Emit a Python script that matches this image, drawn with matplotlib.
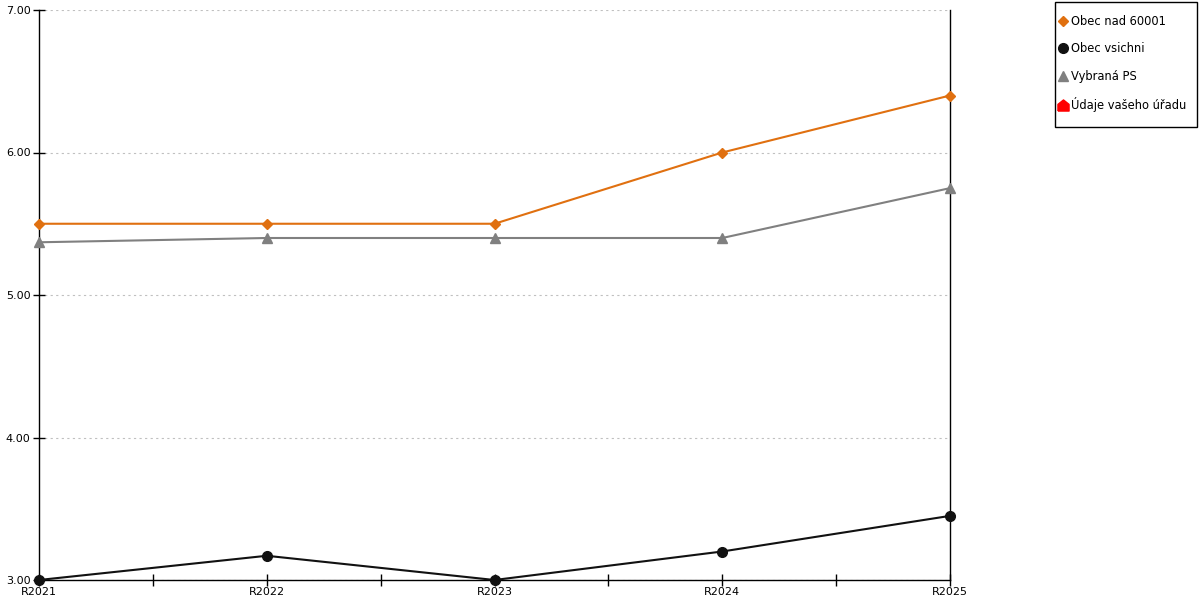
import matplotlib.pyplot as plt
from matplotlib.lines import Line2D
from matplotlib.patches import Rectangle
from matplotlib.ticker import MultipleLocator

# Datos del gráfico
roky = ["R2021", "R2022", "R2023", "R2024", "R2025"]
obec_nad_60001 = [5.50, 5.50, 5.50, 6.00, 6.40]
obec_vsichni = [3.00, 3.17, 3.00, 3.20, 3.45]
vybrana_ps = [5.37, 5.40, 5.40, 5.40, 5.75]
udaje_uradu = []

# Marcador tipo "casa" para la serie del úřad
casa = [(-1, -1), (1, -1), (1, 0.2), (0, 1), (-1, 0.2), (-1, -1)]

plt.rcParams['font.family'] = ['DejaVu Sans']
fig = plt.figure(figsize=(12, 6), dpi=100)
ax = fig.add_axes([39 / 1200, 20 / 600, 911 / 1200, 570 / 600])

x = list(range(len(roky)))
ax.plot(x, obec_nad_60001, color='#e07010', lw=1.5, marker='D', ms=5.5, zorder=3, clip_on=False)
ax.plot(x, vybrana_ps, color='#808080', lw=1.5, marker='^', ms=7, zorder=3, clip_on=False)
ax.plot(x, obec_vsichni, color='#111111', lw=1.5, marker='o', ms=7, zorder=3, clip_on=False)
ax.plot(range(len(udaje_uradu)), udaje_uradu, color='red', lw=0, marker=casa, ms=8)

ax.set_xlim(0, len(roky) - 1)
ax.set_ylim(3, 7)
ax.set_xticks(x)
ax.set_xticklabels(roky)
ax.xaxis.set_minor_locator(MultipleLocator(0.5))
ax.set_yticks([3, 4, 5, 6, 7])
ax.set_yticklabels(["%.2f" % v for v in [3, 4, 5, 6, 7]])
ax.tick_params(axis='both', labelsize=8, direction='inout', length=8, width=1, pad=1)
ax.tick_params(axis='x', which='minor', direction='inout', length=8, width=1)
ax.tick_params(axis='y', pad=2)
ax.grid(axis='y', linestyle=(0, (2, 3)), color='#c0c0c0', lw=0.8)
ax.spines['top'].set_visible(False)
for s in ['left', 'bottom', 'right']:
    ax.spines[s].set_linewidth(1)

# Marco de la leyenda
fig.patches.append(Rectangle((1055 / 1200, 1 - 127 / 600), 142 / 1200, 125 / 600,
                             transform=fig.transFigure, fill=False, edgecolor='black', lw=1))

# Leyenda con sólo marcadores
handles = [
    Line2D([], [], color='#e07010', marker='D', ms=5.5, lw=0),
    Line2D([], [], color='#111111', marker='o', ms=7, lw=0),
    Line2D([], [], color='#808080', marker='^', ms=7, lw=0),
    Line2D([], [], color='red', marker=casa, ms=8, lw=0),
]
nombres = ["Obec nad 60001", "Obec vsichni", "Vybraná PS", "Údaje vašeho úřadu"]
fig.legend(handles, nombres, loc='upper left', bbox_to_anchor=(1058 / 1200, 1 - 15 / 600),
           fontsize=8.3, frameon=False, labelspacing=1.25, handlelength=0.8,
           handletextpad=0.35, borderpad=0, borderaxespad=0)

fig.savefig("out.png", dpi=100)
